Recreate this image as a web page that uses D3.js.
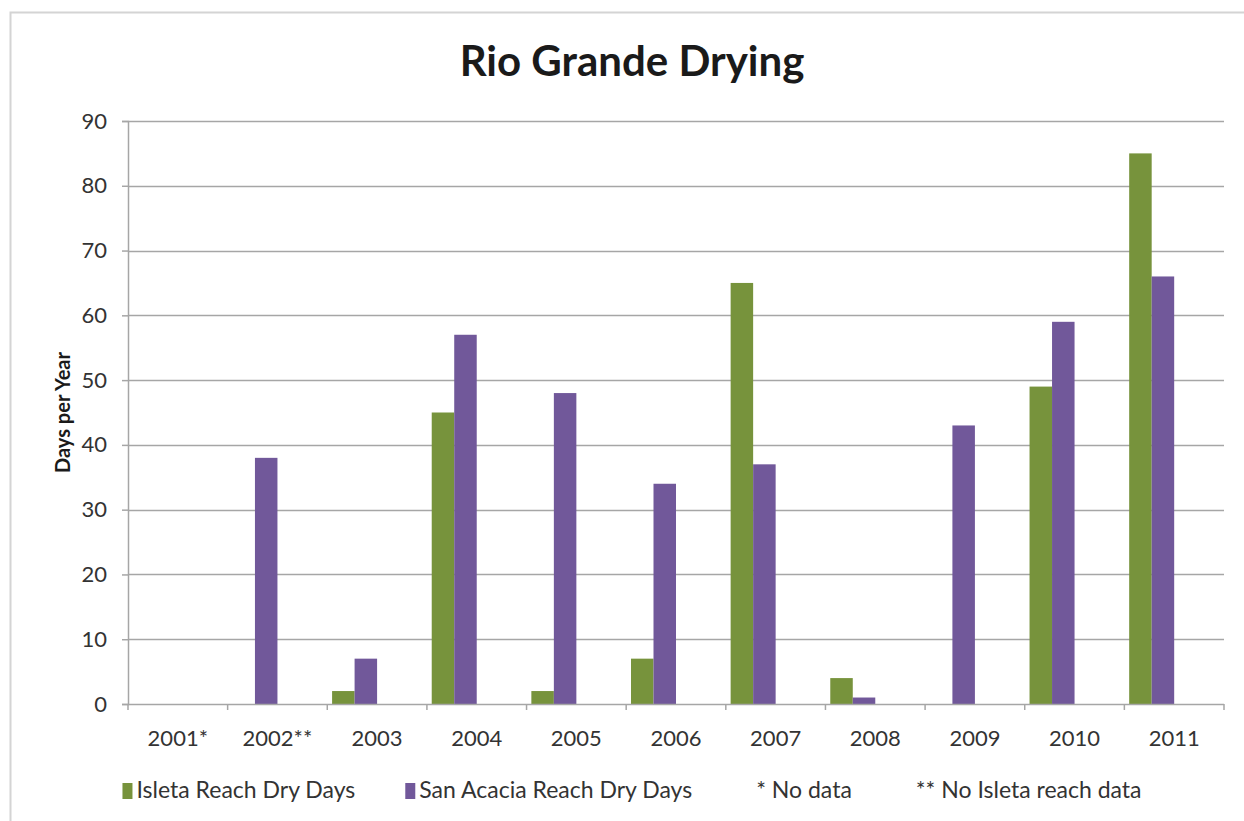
<!DOCTYPE html>
<html>
<head>
<meta charset="utf-8">
<script src="https://cdn.jsdelivr.net/npm/d3@7"></script>
<style>
  html, body { margin: 0; padding: 0; background: #fff; }
  svg { display: block; }
  text { font-family: Lato, "Open Sans", "DejaVu Sans", sans-serif; }
</style>
</head>
<body>
<svg id="chart" width="1244" height="821"></svg>
<script>
// Years on the category axis (asterisks refer to the notes in the legend)
const years = ["2001*", "2002**", "2003", "2004", "2005", "2006", "2007", "2008", "2009", "2010", "2011"];

// Dry days per year for each reach (null = no data)
const isletaDays    = [null, null, 2, 45, 2, 7, 65, 4, 0, 49, 85];
const sanAcaciaDays = [0, 38, 7, 57, 48, 34, 37, 1, 43, 59, 66];

// Legend entries; the two notes are empty series that only appear in the legend
const seriesNames  = ["Isleta Reach Dry Days", "San Acacia Reach Dry Days", "* No data", "** No Isleta reach data"];
const seriesColors = ["#77933c", "#71589a", "none", "none"];
const seriesValues = [isletaDays, sanAcaciaDays, [], []];

// Value axis ticks
const yTicks = [0, 10, 20, 30, 40, 50, 60, 70, 80, 90];

const svg = d3.select("#chart");
const fontSize = 22;

// Outer chart frame
svg.append("rect")
  .attr("x", 10.5).attr("y", 12.5)
  .attr("width", 1260).attr("height", 830)
  .attr("fill", "#fff")
  .attr("stroke", "#d4d4d4").attr("stroke-width", 2);

const plot = { left: 128, right: 1224, top: 121, bottom: 704 };

const x = d3.scaleBand()
  .domain(years)
  .range([plot.left, plot.right])
  .paddingInner(0)
  .paddingOuter(0);

// Each category holds four slots (one per legend series) with a gap around them
const xInner = d3.scaleBand()
  .domain(seriesNames)
  .range([0, x.bandwidth()])
  .paddingOuter(0.214)
  .paddingInner(0);

const y = d3.scaleLinear()
  .domain([0, 90])
  .range([plot.bottom, plot.top]);

// Horizontal gridlines
svg.append("g")
  .selectAll("line")
  .data(yTicks.filter(d => d > 0))
  .join("line")
  .attr("x1", plot.left).attr("x2", plot.right)
  .attr("y1", d => Math.round(y(d)) + 0.5)
  .attr("y2", d => Math.round(y(d)) + 0.5)
  .attr("stroke", "#a6a6a6").attr("stroke-width", 1.5);

// Bars
seriesNames.forEach((name, si) => {
  const vals = seriesValues[si];
  if (seriesColors[si] === "none") return;
  svg.append("g")
    .selectAll("rect")
    .data(years.map((yr, i) => ({ yr, v: vals[i] })).filter(d => d.v != null && d.v > 0))
    .join("rect")
    .attr("x", d => x(d.yr) + xInner(name))
    .attr("width", xInner.bandwidth())
    .attr("y", d => y(d.v))
    .attr("height", d => y(0) - y(d.v))
    .attr("fill", seriesColors[si]);
});

// Y axis
const yAxis = svg.append("g")
  .attr("transform", `translate(${plot.left},0)`)
  .call(d3.axisLeft(y).tickValues(yTicks).tickSize(6).tickPadding(15).tickFormat(d3.format("d")));
yAxis.select(".domain").attr("stroke", "#a6a6a6").attr("stroke-width", 1.5);
yAxis.selectAll(".tick line").attr("stroke", "#a6a6a6").attr("stroke-width", 1.5);
yAxis.selectAll(".tick text")
  .attr("font-size", fontSize).attr("fill", "#333")
  .style("font-family", "Lato, 'Open Sans', sans-serif");

// X axis (ticks sit on category boundaries)
const xAxisG = svg.append("g")
  .attr("transform", `translate(0,${plot.bottom})`);
xAxisG.append("line")
  .attr("x1", plot.left).attr("x2", plot.right)
  .attr("y1", 0.5).attr("y2", 0.5)
  .attr("stroke", "#a6a6a6").attr("stroke-width", 1.5);
xAxisG.selectAll("line.tick")
  .data(years.concat(["end"]))
  .join("line")
  .attr("class", "tick")
  .attr("x1", (d, i) => plot.left + i * x.step())
  .attr("x2", (d, i) => plot.left + i * x.step())
  .attr("y1", 0).attr("y2", 6)
  .attr("stroke", "#a6a6a6").attr("stroke-width", 1.5);
xAxisG.selectAll("text")
  .data(years)
  .join("text")
  .attr("x", d => x(d) + x.bandwidth() / 2)
  .attr("y", 42)
  .attr("text-anchor", "middle")
  .attr("font-size", fontSize).attr("fill", "#333")
  .text(d => d);

// Title
svg.append("text")
  .attr("x", 632).attr("y", 76)
  .attr("text-anchor", "middle")
  .attr("font-size", 42).attr("font-weight", "bold").attr("fill", "#1a1a1a")
  .text("Rio Grande Drying");

// Y axis title
svg.append("text")
  .attr("transform", `translate(70,${(plot.top + plot.bottom) / 2}) rotate(-90)`)
  .attr("text-anchor", "middle")
  .attr("font-size", 20).attr("font-weight", "bold").attr("fill", "#1a1a1a")
  .text("Days per Year");

// Legend, laid out left to right and centred under the plot
const legend = svg.append("g");
const items = legend.selectAll("g")
  .data(seriesNames)
  .join("g");
items.append("rect")
  .attr("width", 10).attr("height", 16)
  .attr("y", -15)
  .attr("fill", (d, i) => seriesColors[i]);
items.append("text")
  .attr("x", 14).attr("y", 0)
  .attr("font-size", 23).attr("fill", "#333")
  .text(d => d);
const gap = 50;
let cursor = 0;
items.each(function () {
  const g = d3.select(this);
  g.attr("transform", `translate(${cursor},0)`);
  const w = 14 + g.select("text").node().getComputedTextLength();
  cursor += w + gap;
});
const legendWidth = cursor - gap;
legend.attr("transform", `translate(${632 - legendWidth / 2},798)`);
</script>
</body>
</html>
